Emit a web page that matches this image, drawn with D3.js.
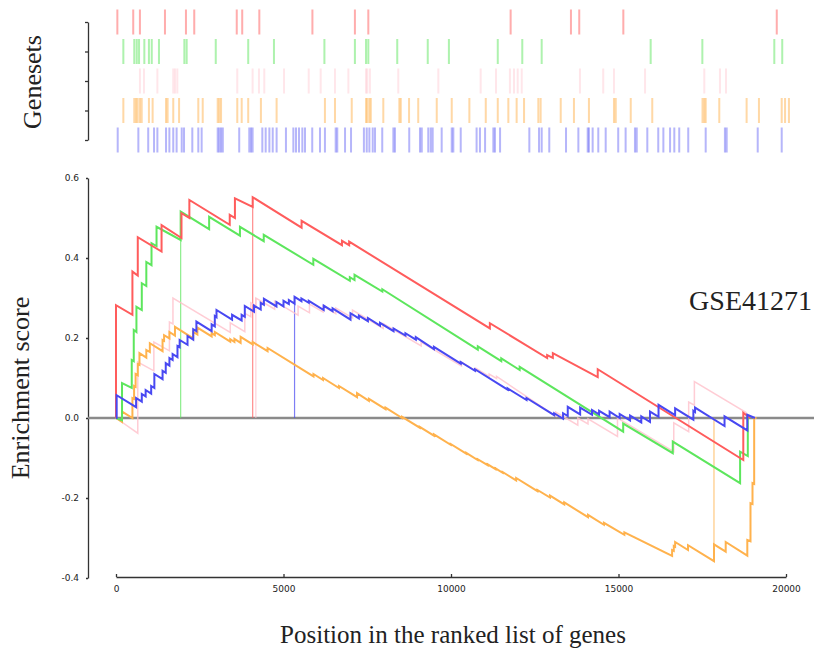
<!DOCTYPE html>
<meta charset="utf-8">
<style>
  body { margin: 0; background: #fff; }
  .tick text { font-family: "DejaVu Sans", sans-serif; font-size: 9px; fill: #222; }
  .title { font-family: "Liberation Serif", "Times New Roman", serif; fill: #222; }
</style>

<!-- Load d3.js -->
<script src="https://d3js.org/d3.v7.min.js"></script>

<div id="gsea"></div>

<script>

  // gene set names, top row to bottom row of the barcode panel
  var setNames = ["red", "green", "pink", "orange", "blue"];
  var setColors = ["#ff5c5c", "#5de65d", "#ffc0cb", "#ffb24d", "#4848f2"];

  // positions of the hits in the ranked list
  var redHits = [10, 460, 650, 1360, 1955, 2190, 3395, 3550, 4035, 5540, 6745, 7125, 11160, 12870, 13105, 14355, 18705];
  var greenHits = [180, 490, 560, 625, 775, 905, 985, 1190, 1910, 1975, 2800, 3720, 4450, 5880, 6745, 7060, 7125, 7945,
    8810, 9410, 10795, 11490, 12040, 15130, 16595, 18635, 18860];
  var pinkHits = [650, 765, 1145, 1595, 1645, 1710, 3410, 3845, 4025, 4175, 4735, 5435, 5775, 6180, 6560, 7060, 7095, 7170,
    7975, 9110, 10310, 10745, 11140, 11255, 11360, 11475, 13125, 13785, 14090, 14970, 16650, 17095, 17265];
  var orangeHits = [180, 490, 540, 585, 650, 700, 905, 1010, 1390, 1435, 1595, 1760, 2305, 2430, 2855, 2900, 2950, 3410,
    3535, 3720, 4080, 4525, 5895, 6180, 6655, 7060, 7095, 7155, 7195, 7550, 8005, 8045, 8280, 8540, 9065, 9490, 9990,
    10455, 10795, 11095, 11330, 11540, 11945, 12010, 12580, 12955, 13380, 14090, 14140, 14565, 15175, 16600, 16650,
    16690, 17075, 17850, 18200, 18845, 18940, 19050];
  var blueHits = [20, 605, 885, 1050, 1145, 1390, 1485, 1595, 1690, 1835, 1900, 2135, 2305, 2400, 2855, 2900, 2950, 3000,
    3465, 3750, 3800, 3845, 4120, 4215, 4320, 4415, 4525, 4790, 5000, 5075, 5160, 5255, 5330, 5535, 5755, 5895, 6200,
    6245, 6465, 6635, 7000, 7080, 7155, 7250, 7315, 7520, 7835, 7880, 8285, 8590, 8640, 8825, 8895, 8950, 9205, 9490,
    9535, 9745, 10195, 10290, 10435, 10670, 10715, 10860, 11690, 11965, 12040, 12255, 12730, 13080, 13345, 13380,
    13485, 13645, 13855, 14210, 14420, 14685, 14735, 15035, 15345, 15490, 15680, 15800, 15940, 16195, 16690, 17235,
    17285, 18165, 18845];

  // running enrichment score, [rank, score]
  var redES = [[0,0],[0,0.282],[490,0.258],[490,0.366],[650,0.356],[650,0.452],[1360,0.416],[1360,0.482],[1955,0.450],
    [1955,0.512],[2190,0.500],[2190,0.545],[3395,0.483],[3395,0.508],[3550,0.500],[3550,0.549],[4080,0.528],[4080,0.552],
    [5540,0.476],[5540,0.493],[6745,0.432],[6745,0.443],[6960,0.432],[6960,0.441],[11160,0.224],[11160,0.237],
    [12870,0.150],[12870,0.157],[13040,0.150],[13040,0.162],[14380,0.102],[14380,0.122],[18725,-0.105],[18725,0.013],
    [18925,0]];
  var greenES = [[0,0],[180,-0.006],[180,0.087],[470,0.075],[470,0.145],[530,0.142],[530,0.22],[610,0.215],[610,0.278],
    [770,0.27],[770,0.337],[905,0.33],[905,0.39],[1060,0.382],[1060,0.437],[1210,0.43],[1210,0.478],[1930,0.445],
    [1930,0.516],[2780,0.472],[2780,0.503],[3700,0.456],[3700,0.478],[4410,0.442],[4410,0.458],[5890,0.383],[5890,0.398],
    [6980,0.343],[6980,0.352],[7120,0.345],[7120,0.358],[7950,0.316],[7950,0.322],[10800,0.171],[10800,0.179],
    [11500,0.142],[11500,0.149],[12050,0.12],[12050,0.128],[15140,-0.034],[15140,-0.014],[16620,-0.088],[16620,-0.059],
    [18630,-0.163],[18630,-0.084],[18860,-0.095],[18860,0.004],[18930,0]];
  var pinkES = [[0,0],[650,-0.038],[650,0.14],[1130,0.118],[1130,0.19],[1595,0.168],[1595,0.24],[1700,0.235],[1700,0.30],
    [3410,0.214],[3410,0.238],[3845,0.216],[3845,0.262],[4025,0.253],[4025,0.288],[4175,0.28],[4175,0.30],[4735,0.272],
    [4735,0.292],[5435,0.257],[5435,0.28],[5775,0.263],[5775,0.285],[6180,0.265],[6180,0.28],[6560,0.261],[6560,0.275],
    [7060,0.25],[7060,0.27],[7975,0.224],[7975,0.236],[9110,0.18],[9110,0.19],[10310,0.13],[10310,0.14],[10745,0.118],
    [10745,0.124],[11140,0.104],[11140,0.11],[11360,0.099],[11360,0.104],[13125,0.005],[13125,0.015],[13785,-0.018],
    [13785,0.0],[14090,-0.015],[14090,-0.002],[14970,-0.046],[14970,0.0],[16650,-0.084],[16650,-0.012],[17095,-0.034],
    [17095,0.04],[17265,0.032],[17265,0.091],[18800,0.014],[18900,0]];
  var orangeES = [[0,0],[180,-0.01],[180,0.016],[490,0.0],[490,0.05],[540,0.048],[540,0.08],[585,0.078],[585,0.11],
    [650,0.107],[650,0.135],[700,0.133],[700,0.162],[905,0.151],[905,0.17],[1010,0.165],[1010,0.187],[1390,0.167],
    [1390,0.195],[1435,0.193],[1435,0.207],[1595,0.199],[1595,0.215],[1760,0.206],[1760,0.228],[2305,0.199],[2305,0.215],
    [2430,0.209],[2430,0.226],[2855,0.204],[2855,0.212],[2950,0.207],[2950,0.215],[3410,0.191],[3410,0.197],[3535,0.19],
    [3535,0.198],[3720,0.188],[3720,0.203],[4080,0.184],[4080,0.19],[4525,0.167],[4525,0.175],[5895,0.104],[5895,0.11],
    [6180,0.095],[6180,0.1],[6655,0.075],[6655,0.08],[7195,0.052],[7195,0.062],[7550,0.043],[7550,0.048],[8045,0.022],
    [8045,0.026],[8540,0.0],[8540,0.003],[9065,-0.024],[9065,-0.022],[9490,-0.044],[9490,-0.041],[9990,-0.067],
    [9990,-0.065],[10455,-0.089],[10455,-0.087],[10795,-0.105],[10795,-0.103],[11095,-0.118],[11095,-0.116],
    [11330,-0.128],[11330,-0.126],[11540,-0.137],[11540,-0.135],[11945,-0.156],[11945,-0.15],[12580,-0.183],
    [12580,-0.18],[12955,-0.199],[12955,-0.194],[13380,-0.216],[13380,-0.211],[14090,-0.248],[14090,-0.242],
    [14565,-0.267],[14565,-0.262],[15175,-0.292],[15175,-0.286],[16600,-0.345],[16600,-0.33],[16650,-0.332],
    [16650,-0.32],[16690,-0.322],[16690,-0.31],[17075,-0.33],[17075,-0.318],[17850,-0.358],[17850,-0.316],
    [18200,-0.334],[18200,-0.31],[18845,-0.344],[18845,-0.305],[18940,-0.308],[18940,-0.213],[19000,-0.215],
    [19000,-0.163],[19050,-0.165],[19050,0.0],[19120,0]];
  var blueES = [[0,0],[20,0],[20,0.057],[600,0.027],[600,0.05],[770,0.041],[770,0.06],[885,0.054],[885,0.07],
    [1050,0.061],[1050,0.08],[1145,0.075],[1145,0.11],[1390,0.097],[1390,0.118],[1485,0.113],[1485,0.137],[1595,0.131],
    [1595,0.15],[1690,0.145],[1690,0.16],[1835,0.152],[1835,0.18],[1900,0.177],[1900,0.195],[2135,0.183],[2135,0.205],
    [2305,0.196],[2305,0.222],[2400,0.217],[2400,0.241],[2855,0.217],[2855,0.234],[2950,0.229],[2950,0.255],[3000,0.252],
    [3000,0.27],[3465,0.246],[3465,0.258],[3750,0.244],[3750,0.258],[3845,0.253],[3845,0.28],[4120,0.266],[4120,0.281],
    [4320,0.271],[4320,0.288],[4415,0.283],[4415,0.298],[4790,0.279],[4790,0.29],[5000,0.279],[5000,0.293],[5160,0.285],
    [5160,0.295],[5330,0.286],[5330,0.303],[5535,0.292],[5535,0.299],[5755,0.288],[5755,0.293],[6200,0.27],[6200,0.281],
    [6465,0.267],[6465,0.274],[7000,0.246],[7000,0.262],[7250,0.249],[7250,0.256],[7520,0.242],[7520,0.25],[7880,0.231],
    [7880,0.238],[8285,0.217],[8285,0.224],[8640,0.206],[8640,0.212],[8950,0.196],[8950,0.202],[9490,0.172],[9490,0.178],
    [10290,0.136],[10290,0.14],[10715,0.118],[10715,0.122],[11690,0.071],[11690,0.074],[12255,0.045],[12255,0.05],
    [13080,0.007],[13080,0.012],[13345,-0.002],[13345,0.012],[13485,0.005],[13485,0.028],[13855,0.009],[13855,0.026],
    [14210,0.008],[14210,0.02],[14420,0.009],[14420,0.018],[14735,0.002],[14735,0.016],[15035,0.0],[15035,0.01],
    [15345,-0.006],[15345,0.006],[15680,-0.011],[15680,0.004],[15940,-0.01],[15940,0.016],[16195,0.003],[16195,0.033],
    [16690,0.007],[16690,0.024],[17235,-0.004],[17235,0.018],[17285,0.015],[17285,0.026],[18165,-0.02],[18165,0.004],
    [18845,-0.031],[18845,0.008],[19075,0]];

  // rank and score of the peak of each set (drop lines)
  var peakRanks = [4080, 1930, 4175, 17850, 5330];
  var peakScores = [0.552, 0.516, 0.30, -0.358, 0.303];

  // tick labels
  var xTicks = [0, 5000, 10000, 15000, 20000];
  var yTicks = [-0.4, -0.2, 0.0, 0.2, 0.4, 0.6];

  var hits = [redHits, greenHits, pinkHits, orangeHits, blueHits];
  var curves = [redES, greenES, pinkES, orangeES, blueES];

  var width = 814, height = 660;

  var svg = d3.select("#gsea")
    .append("svg")
      .attr("width", width)
      .attr("height", height);

  // scales
  var x = d3.scaleLinear().domain([0, 20000]).range([116, 786]);
  var y = d3.scaleLinear().domain([-0.4, 0.6]).range([578, 178]);
  // the barcode panel is a little wider than the plot
  var xBar = d3.scaleLinear().domain([0, 19100]).range([117, 790.7]);
  var row = d3.scalePoint().domain(setNames).range([22, 140]);

  // ---- barcode panel ----
  svg.append("g")
      .attr("transform", "translate(88,0)")
      .call(d3.axisLeft(row).tickSize(3).tickSizeOuter(0).tickFormat(""))
      .call(function(g) { g.selectAll("path,line").attr("stroke", "#333").attr("stroke-width", 1.3); });

  setNames.forEach(function(name, i) {
    svg.append("g")
      .selectAll("rect")
      .data(hits[i])
      .enter()
      .append("rect")
        .attr("x", function(d) { return xBar(d) - 1; })
        .attr("y", row(name) - 12.5)
        .attr("width", 2)
        .attr("height", 25)
        .style("fill", setColors[i])
        .style("opacity", name == "pink" ? 0.4 : (name == "blue" ? 0.4 : 0.5));
  });

  svg.append("text")
      .attr("class", "title")
      .attr("transform", "translate(41,82) rotate(-90)")
      .attr("text-anchor", "middle")
      .style("font-size", "26px")
      .text("Genesets");

  // ---- enrichment plot ----
  svg.append("g")
      .attr("transform", "translate(88,0)")
      .call(d3.axisLeft(y).tickValues(yTicks).tickSize(2).tickPadding(7).tickSizeOuter(0)
        .tickFormat(function(d) { return d.toFixed(1); }))
      .call(function(g) { g.selectAll("path,line").attr("stroke", "#333").attr("stroke-width", 1.3); });

  svg.append("g")
      .attr("transform", "translate(0,577)")
      .call(d3.axisBottom(x).tickValues(xTicks).tickSize(-3).tickPadding(9).tickSizeOuter(0)
        .tickFormat(d3.format("d")))
      .call(function(g) { g.selectAll("path,line").attr("stroke", "#333").attr("stroke-width", 1.3); });

  // zero line
  svg.append("line")
      .attr("x1", 88).attr("x2", 814)
      .attr("y1", y(0)).attr("y2", y(0))
      .attr("stroke", "#8a8a8a")
      .attr("stroke-width", 2.5);

  // drop lines at the peaks
  setNames.forEach(function(name, i) {
    svg.append("line")
      .attr("x1", x(peakRanks[i])).attr("x2", x(peakRanks[i]))
      .attr("y1", y(0)).attr("y2", y(peakScores[i]))
      .attr("stroke", setColors[i])
      .attr("stroke-width", 1.2)
      .style("opacity", 0.7);
  });

  var line = d3.line()
    .x(function(d) { return x(d[0]); })
    .y(function(d) { return y(d[1]); });

  // pink and orange first, blue last on top
  [2, 3, 1, 0, 4].forEach(function(i) {
    svg.append("path")
      .datum(curves[i])
      .attr("d", line)
      .attr("fill", "none")
      .attr("stroke", setColors[i])
      .attr("stroke-width", i == 2 ? 1.5 : 2)
      .style("opacity", i == 2 ? 0.8 : 1);
  });

  // titles
  svg.append("text")
      .attr("class", "title")
      .attr("transform", "translate(29,388) rotate(-90)")
      .attr("text-anchor", "middle")
      .style("font-size", "26px")
      .text("Enrichment score");

  svg.append("text")
      .attr("class", "title")
      .attr("x", 453)
      .attr("y", 643)
      .attr("text-anchor", "middle")
      .style("font-size", "25px")
      .text("Position in the ranked list of genes");

  svg.append("text")
      .attr("class", "title")
      .attr("x", 812)
      .attr("y", 310)
      .attr("text-anchor", "end")
      .style("font-size", "28px")
      .text("GSE41271");

</script>
